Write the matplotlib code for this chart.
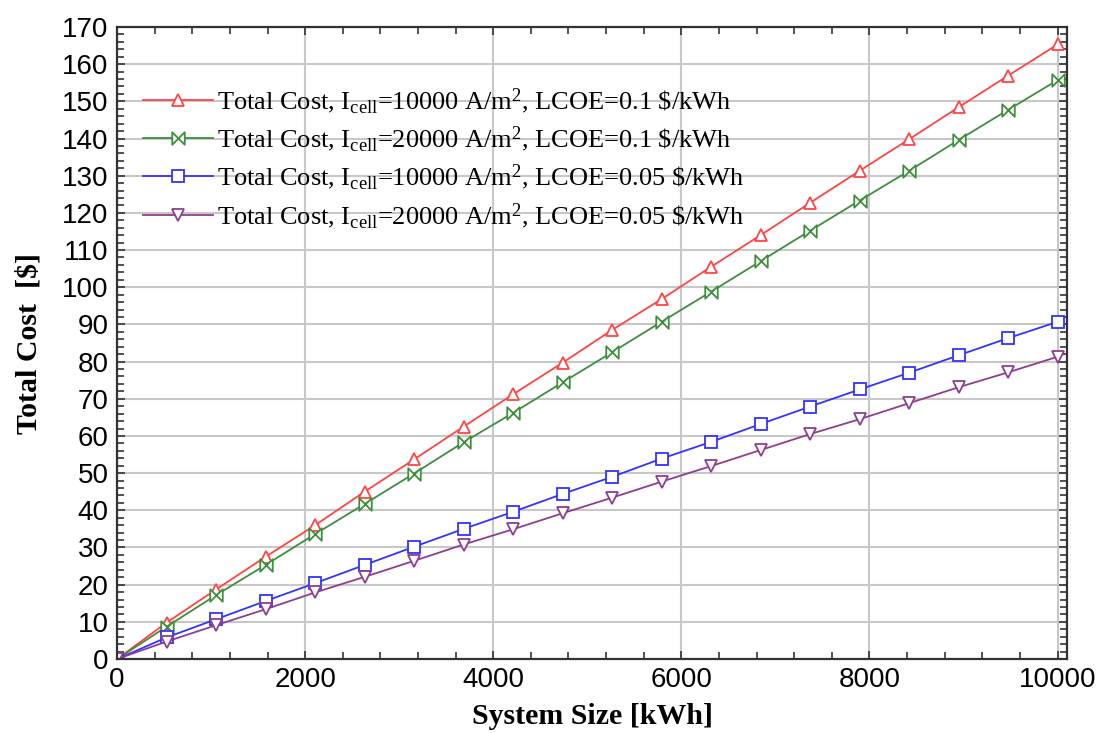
import matplotlib
matplotlib.use("Agg")
import matplotlib.pyplot as plt
import numpy as np
from matplotlib.path import Path
from matplotlib.ticker import MultipleLocator

# system size [kWh], 20 evenly spaced runs from 0 to 10000
system_size = np.linspace(0, 10000, 20)

cost_10k_01 = [0, 9.8, 18.7, 27.5, 36.0, 45.0, 53.7, 62.5, 71.2, 79.7, 88.5,
               96.8, 105.5, 114.0, 122.7, 131.3, 139.8, 148.4, 156.9, 165.3]
cost_20k_01 = [0, 8.7, 17.2, 25.3, 33.6, 41.7, 49.9, 58.3, 66.2, 74.4, 82.5,
               90.7, 98.8, 107.0, 115.2, 123.3, 131.3, 139.6, 147.7, 155.7]
cost_10k_005 = [0, 5.8, 10.7, 15.6, 20.4, 25.3, 30.2, 35.0, 39.6, 44.4, 49.0,
                53.9, 58.4, 63.2, 67.9, 72.5, 77.0, 81.7, 86.3, 90.7]
cost_20k_005 = [0, 4.7, 9.1, 13.4, 17.9, 22.1, 26.4, 30.8, 34.9, 39.2, 43.4,
                47.7, 51.9, 56.2, 60.5, 64.5, 68.8, 73.1, 77.1, 81.3]

labels = [
    r"Total Cost, I$_{\mathrm{cell}}$=10000 A/m$^{2}$, LCOE=0.1 \$/kWh",
    r"Total Cost, I$_{\mathrm{cell}}$=20000 A/m$^{2}$, LCOE=0.1 \$/kWh",
    r"Total Cost, I$_{\mathrm{cell}}$=10000 A/m$^{2}$, LCOE=0.05 \$/kWh",
    r"Total Cost, I$_{\mathrm{cell}}$=20000 A/m$^{2}$, LCOE=0.05 \$/kWh",
]

plt.rcParams["mathtext.fontset"] = "custom"
plt.rcParams["mathtext.rm"] = "Liberation Serif"
plt.rcParams["mathtext.it"] = "Liberation Serif:italic"
plt.rcParams["mathtext.bf"] = "Liberation Serif:bold"

# bow-tie marker (two triangles meeting at the centre)
bowtie = Path([(-1, -1), (1, 1), (1, -1), (-1, 1), (-1, -1)],
              [Path.MOVETO, Path.LINETO, Path.LINETO, Path.LINETO, Path.CLOSEPOLY])

series = [
    (cost_10k_01, "#FF4444", "^"),
    (cost_20k_01, "#3E8E3E", bowtie),
    (cost_10k_005, "#3333FF", "s"),
    (cost_20k_005, "#8E3E8E", "v"),
]

fig = plt.figure(figsize=(10.96, 7.33), dpi=100)
ax = fig.add_axes([0.1068, 0.1009, 0.8667, 0.8623])

for (vals, color, marker), label in zip(series, labels):
    ax.plot(system_size, vals, color=color, lw=1.3, marker=marker, ms=9,
            mfc="white", mec=color, mew=1.3, label=label)

ax.set_xlim(0, 10100)
ax.set_ylim(0, 170)
ax.xaxis.set_major_locator(MultipleLocator(2000))
ax.xaxis.set_minor_locator(MultipleLocator(400))
ax.yaxis.set_major_locator(MultipleLocator(10))
ax.yaxis.set_minor_locator(MultipleLocator(2))
ax.grid(True, which="major", color="#C8C8C8", lw=1.5)
ax.set_axisbelow(True)

ax.tick_params(which="both", direction="in", top=True, right=True,
               width=1.2, color="#333333")
ax.tick_params(which="major", length=6, labelsize=20, pad=6)
ax.tick_params(which="minor", length=5)
for lab in ax.get_xticklabels() + ax.get_yticklabels():
    lab.set_family("Liberation Sans")
for sp in ax.spines.values():
    sp.set_linewidth(1.6)
    sp.set_color("#333333")

ax.set_xlabel("System Size [kWh]", family="Liberation Serif", fontweight="bold",
              fontsize=21.5, labelpad=7)
ax.set_ylabel("Total Cost  [$]", family="Liberation Serif", fontweight="bold",
              fontsize=21.5, labelpad=14)

leg = ax.legend(loc="upper left", bbox_to_anchor=(0.027, 0.906), frameon=False,
                prop={"family": "Liberation Serif", "size": 19},
                handlelength=2.65, handletextpad=0.15, labelspacing=0.32,
                borderaxespad=0.0, borderpad=0.0)

fig.savefig("out.png", dpi=100, facecolor="white")
